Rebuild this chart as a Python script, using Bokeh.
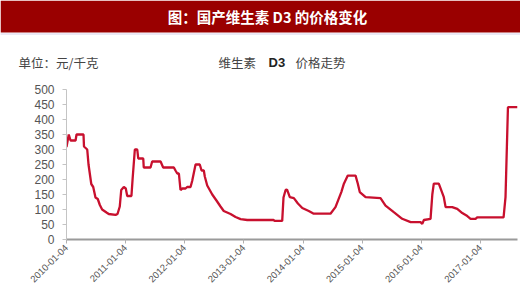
from datetime import datetime
from math import pi
import pandas as pd
from bokeh.plotting import figure
from bokeh.models import Range1d, FixedTicker, DatetimeTickFormatter
from bokeh.core.properties import value
from bokeh.embed import file_html
from bokeh.resources import INLINE

# ---------------- data ----------------
dates = [
    "2010-01-04", "2010-01-18", "2010-01-29", "2010-03-01", "2010-03-07", "2010-04-19",
    "2010-04-22", "2010-05-12", "2010-05-20", "2010-06-06", "2010-06-18", "2010-07-02",
    "2010-07-16", "2010-07-29", "2010-08-12", "2010-09-08", "2010-09-22", "2010-11-03",
    "2010-11-15", "2010-11-29", "2010-12-08", "2010-12-24", "2011-01-05", "2011-01-14",
    "2011-02-09", "2011-02-16", "2011-03-02", "2011-03-17", "2011-03-23", "2011-04-23",
    "2011-04-26", "2011-06-07", "2011-06-17", "2011-08-08", "2011-08-24", "2011-10-29",
    "2011-11-08", "2011-11-19", "2011-11-29", "2011-12-09", "2011-12-20", "2012-01-09",
    "2012-01-19", "2012-02-09", "2012-02-19", "2012-03-11", "2012-04-06", "2012-04-17",
    "2012-05-01", "2012-05-07", "2012-05-22", "2012-06-22", "2012-07-18", "2012-08-12",
    "2012-09-01", "2012-10-13", "2012-11-13", "2012-12-14", "2013-01-24", "2013-07-05",
    "2013-07-12", "2013-08-28", "2013-09-05", "2013-09-18", "2013-09-27", "2013-10-14",
    "2013-11-08", "2013-12-03", "2013-12-30", "2014-02-08", "2014-03-11", "2014-06-22",
    "2014-07-23", "2014-08-28", "2014-09-13", "2014-10-07", "2014-11-24", "2014-12-08",
    "2014-12-20", "2015-01-25", "2015-04-27", "2015-05-28", "2015-07-18", "2015-09-08",
    "2015-10-30", "2015-12-30", "2016-01-10", "2016-01-20", "2016-03-01", "2016-03-12",
    "2016-03-21", "2016-04-21", "2016-05-22", "2016-06-02", "2016-07-13", "2016-08-13",
    "2016-09-13", "2016-10-14", "2016-11-03", "2016-12-04", "2016-12-14", "2017-05-26",
    "2017-06-07", "2017-06-22", "2017-08-20",
]
prices = [
    308, 350, 330, 330, 350, 350,
    310, 300, 250, 185, 175, 140,
    135, 115, 100, 90, 85, 82,
    85, 110, 165, 175, 170, 145,
    145, 200, 300, 300, 270, 270,
    240, 240, 260, 260, 240, 240,
    230, 220, 220, 165, 170, 170,
    175, 175, 195, 250, 250, 230,
    230, 210, 180, 150, 130, 110,
    95, 85, 75, 68, 65, 65,
    62, 62, 140, 165, 166, 141,
    138, 120, 105, 95, 86, 86,
    108, 158, 186, 213, 213, 186,
    158, 141, 138, 113, 91, 69,
    58, 58, 52, 65, 69, 150,
    186, 186, 141, 108, 108, 102,
    88, 78, 69, 69, 74, 74,
    141, 441, 441,
]
y_ticks = [0, 50, 100, 150, 200, 250, 300, 350, 400, 450, 500]
x_tick_labels = ["2010-01-04", "2011-01-04", "2012-01-04", "2013-01-04",
                 "2014-01-04", "2015-01-04", "2016-01-04", "2017-01-04"]

title_text = "图：国产维生素 D3 的价格变化"
unit_text = "单位：元/千克"
sub_parts = ["维生素", "D3", "价格走势"]

CJK = "Noto Sans CJK SC"
LAT = "Liberation Sans"
RED_BAR = "#9a0000"

HEAD_H = 75

# ---------------- header (separate root, pixel coordinates, y down) ----------------
head = figure(width=520, height=HEAD_H, x_range=Range1d(0, 520), y_range=Range1d(HEAD_H, 0),
              toolbar_location=None, output_backend="svg", min_border=0,
              min_border_left=0, min_border_right=0, min_border_top=0, min_border_bottom=0,
              x_axis_location=None, y_axis_location=None)
head.grid.visible = False
head.outline_line_color = None
head.quad(left=0, right=520, top=0, bottom=32, fill_color=RED_BAR, line_color=None)
head.segment(x0=[0], x1=[520], y0=[33.5], y1=[33.5], line_color="#b0a4d8",
             line_dash="1 1", line_width=1)
head.text(x=[267], y=[16], text=[title_text], text_color="white",
          text_font=value(CJK), text_font_style="bold", text_font_size="14.5px",
          text_align="center", text_baseline="middle")
head.text(x=[18], y=[62], text=[unit_text], text_color="#444444",
          text_font=value(CJK), text_font_size="12.5px",
          text_align="left", text_baseline="middle")
head.text(x=[218], y=[62], text=[sub_parts[0]], text_color="#444444",
          text_font=value(CJK), text_font_size="12.5px",
          text_align="left", text_baseline="middle")
head.text(x=[268], y=[62], text=[sub_parts[1]], text_color="#222222",
          text_font=value(LAT), text_font_style="bold", text_font_size="13px",
          text_align="left", text_baseline="middle")
head.text(x=[295], y=[62], text=[sub_parts[2]], text_color="#444444",
          text_font=value(CJK), text_font_size="12.5px",
          text_align="left", text_baseline="middle")

# ---------------- main chart ----------------
x = pd.to_datetime(dates)
p = figure(width=520, height=307 - HEAD_H, x_axis_type="datetime",
           x_range=Range1d(datetime(2010, 1, 4), datetime(2017, 8, 20)),
           y_range=Range1d(0, 500),
           min_border_left=66, min_border_right=3, min_border_top=89 - HEAD_H,
           min_border_bottom=68,
           toolbar_location=None, output_backend="svg")
p.grid.visible = False
p.outline_line_color = None

p.line(x, prices, line_color="#c8102e", line_width=2.3)

p.yaxis.ticker = FixedTicker(ticks=y_ticks)
p.yaxis.axis_line_color = "#c4c4c4"
p.yaxis.major_tick_line_color = "#c4c4c4"
p.yaxis.major_tick_out = 4
p.yaxis.major_tick_in = 0
p.yaxis.minor_tick_out = 0
p.yaxis.minor_tick_in = 0
p.yaxis.major_label_text_font = LAT
p.yaxis.major_label_text_font_size = "12px"
p.yaxis.major_label_text_color = "#555555"
p.yaxis.major_label_standoff = 8

tick_ms = [pd.Timestamp(s).value // 10**6 for s in x_tick_labels]
p.xaxis.ticker = FixedTicker(ticks=tick_ms)
fmt = "%Y-%m-%d"
p.xaxis.formatter = DatetimeTickFormatter(milliseconds=fmt, seconds=fmt, minsec=fmt,
                                          minutes=fmt, hourmin=fmt, hours=fmt, days=fmt,
                                          months=fmt, years=fmt)
p.xaxis.axis_line_color = "#9a9a9a"
p.xaxis.axis_line_width = 2
p.xaxis.major_tick_line_color = "#b0b0b0"
p.xaxis.major_tick_out = 4
p.xaxis.major_tick_in = 0
p.xaxis.minor_tick_out = 0
p.xaxis.minor_tick_in = 0
p.xaxis.major_label_orientation = pi / 4
p.xaxis.major_label_text_font = LAT
p.xaxis.major_label_text_font_size = "9.5px"
p.xaxis.major_label_text_color = "#555555"
p.xaxis.major_label_standoff = 3

open("out.html", "w").write(file_html([head, p], INLINE))
